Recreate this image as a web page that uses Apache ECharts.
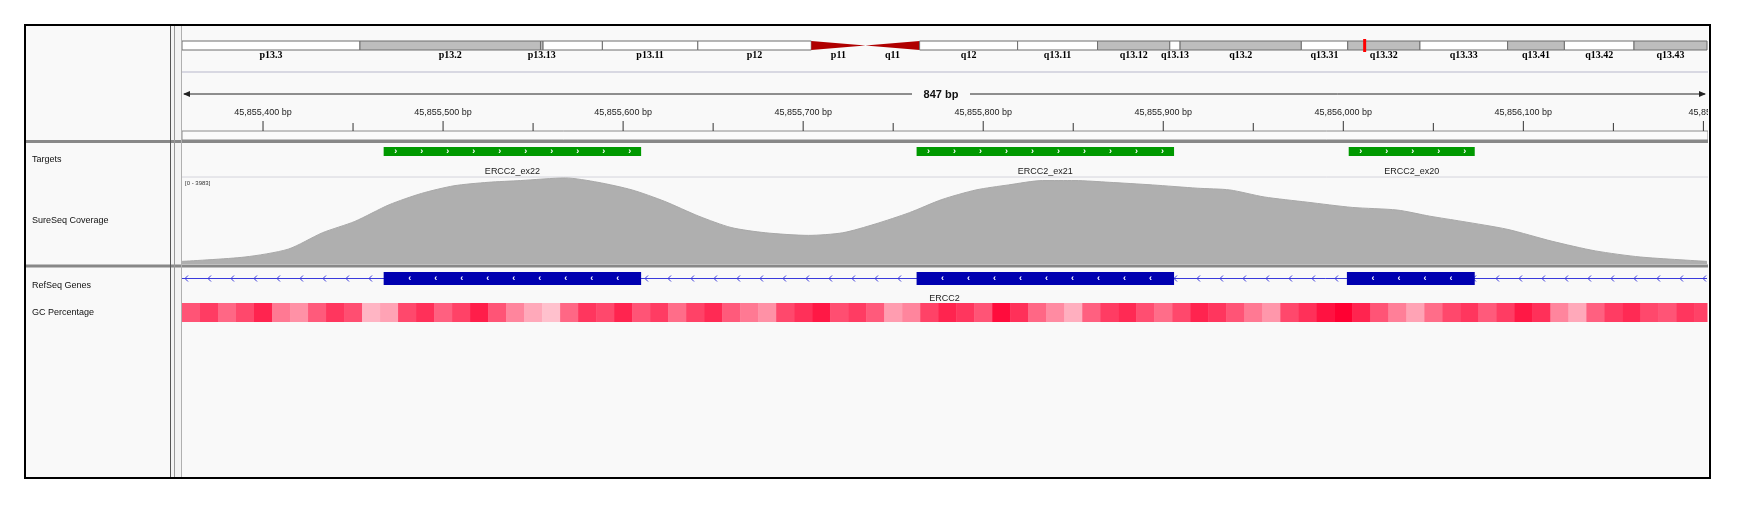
<!DOCTYPE html>
<html>
<head>
<meta charset="utf-8">
<script src="https://cdn.jsdelivr.net/npm/echarts@6/dist/echarts.min.js"></script>
<style>html,body{margin:0;padding:0;background:#fff}#chart{width:1739px;height:510px}</style>
</head>
<body>
<div id="chart"></div>
<script>
// chr19 ideogram bands (Mb)
var bandNames = ['p13.3','p13.2','p13.13','p13.12','p13.11','p12','p11','q11','q12','q13.11','q13.12','q13.13','q13.2','q13.31','q13.32','q13.33','q13.41','q13.42','q13.43'];
var bandStarts = [0,6.9,13.9,14.0,16.3,20.0,24.4,26.5,28.6,32.4,35.5,38.3,38.7,43.4,45.2,48.0,51.4,53.6,56.3];
var bandEnds = [6.9,13.9,14.0,16.3,20.0,24.4,26.5,28.6,32.4,35.5,38.3,38.7,43.4,45.2,48.0,51.4,53.6,56.3,59.13];
var bandStains = ['gneg','gpos','gpos','gneg','gneg','gneg','acenL','acenR','gneg','gneg','gpos','gneg','gpos','gneg','gpos','gneg','gpos','gneg','gpos'];
var bandShowLabel = [1,1,1,0,1,1,1,1,1,1,1,1,1,1,1,1,1,1,1];
var chrLength = 59.13;
var currentPos = 45.856;

var viewStart = 45855355;
var viewEnd = 45856202;

var tickPos = [45855400,45855450,45855500,45855550,45855600,45855650,45855700,45855750,45855800,45855850,45855900,45855950,45856000,45856050,45856100,45856150,45856200];
var tickLabels = ['45,855,400 bp','','45,855,500 bp','','45,855,600 bp','','45,855,700 bp','','45,855,800 bp','','45,855,900 bp','','45,856,000 bp','','45,856,100 bp','','45,856,'];

var targetNames = ['ERCC2_ex22','ERCC2_ex21','ERCC2_ex20'];
var targetStarts = [45855467,45855763,45856003];
var targetEnds = [45855610,45855906,45856073];

var exonStarts = [45855467,45855763,45856002];
var exonEnds = [45855610,45855906,45856073];

var coverageMax = 3983;
var covPos = [45855355,45855390,45855414,45855433,45855451,45855470,45855488,45855506,45855525,45855543,45855568,45855586,45855605,45855623,45855642,45855660,45855679,45855703,45855722,45855740,45855759,45855777,45855796,45855814,45855833,45855851,45855870,45855894,45855919,45855937,45855956,45855980,45856005,45856030,45856048,45856066,45856091,45856116,45856140,45856165,45856202];
var covVal = [120,320,680,1430,1950,2710,3230,3580,3740,3820,3940,3740,3390,2870,2190,1670,1430,1310,1430,1830,2350,2950,3390,3620,3820,3820,3740,3620,3470,3390,3070,2830,2590,2470,2190,1950,1590,1040,600,320,120];

var gcBin = 10;
var gcValues = [58,62,55,60,66,52,48,57,63,59,42,45,60,64,56,61,67,58,50,44,40,55,63,60,66,58,62,54,61,65,57,52,48,60,64,68,59,62,57,46,50,61,66,63,58,70,64,55,49,43,56,62,65,59,54,60,66,63,58,52,47,60,64,69,72,66,58,51,45,54,60,63,57,62,68,64,50,44,56,62,65,60,58,63,61];

var L = 182, W = 1525;
var font = 'Liberation Sans';
var chart = echarts.init(document.getElementById('chart'));

function gcColor(v) {
    var t = Math.max(0, Math.min(1, (v - 38) / 34));
    var g = Math.round(205 - 205 * t), b = Math.round(215 - 165 * t);
    return 'rgb(255,' + g + ',' + b + ')';
}

var grids = [
    {left: L, width: W, top: 41, height: 9},
    {left: L, width: W, top: 122, height: 9},
    {left: L, width: W, top: 147, height: 9},
    {left: L, width: W, top: 177, height: 87},
    {left: L, width: W, top: 272, height: 13},
    {left: L, width: W, top: 303, height: 19}
];
var xAxes = grids.map(function (g, i) {
    return i === 0 ? {gridIndex: 0, type: 'value', min: 0, max: chrLength, show: false}
        : {gridIndex: i, type: 'value', min: viewStart, max: viewEnd, show: false};
});
var yAxes = grids.map(function (g, i) {
    return {gridIndex: i, type: 'value', min: 0, max: i === 3 ? coverageMax : 1, show: false};
});

var bandData = bandNames.map(function (n, i) { return [bandStarts[i], bandEnds[i], i]; });
var tickData = tickPos.map(function (p, i) { return [p, i]; });
var targetData = targetNames.map(function (n, i) { return [targetStarts[i], targetEnds[i], i]; });
var exonData = exonStarts.map(function (s, i) { return [s, exonEnds[i]]; });
var gcData = gcValues.map(function (v, i) { return [viewStart + i * gcBin, v]; });
var covData = covPos.map(function (p, i) { return [p, covVal[i]]; });

var series = [
    {   // ideogram
        type: 'custom', xAxisIndex: 0, yAxisIndex: 0, data: bandData,
        renderItem: function (params, api) {
            var i = api.value(2);
            var a = api.coord([api.value(0), 1]), b = api.coord([api.value(1), 0]);
            var stain = bandStains[i], el;
            if (stain === 'acenL') {
                el = {type: 'polygon', shape: {points: [[a[0], a[1]], [b[0], (a[1] + b[1]) / 2], [a[0], b[1]]]}, style: {fill: '#b00000'}};
            } else if (stain === 'acenR') {
                el = {type: 'polygon', shape: {points: [[a[0], (a[1] + b[1]) / 2], [b[0], a[1]], [b[0], b[1]]]}, style: {fill: '#b00000'}};
            } else {
                el = {type: 'rect', shape: {x: a[0], y: a[1], width: b[0] - a[0], height: b[1] - a[1]},
                    style: {fill: stain === 'gpos' ? '#bdbdbd' : '#ffffff', stroke: '#6e6e6e', lineWidth: 1}};
            }
            var children = [el];
            if (bandShowLabel[i]) {
                children.push({type: 'text', style: {text: bandNames[i], x: (a[0] + b[0]) / 2, y: b[1] + 5, align: 'center', verticalAlign: 'middle',
                    font: 'bold 10px "Liberation Serif"', fill: '#000'}});
            }
            if (i === bandNames.length - 1) {
                var m = api.coord([currentPos, 0]);
                children.push({type: 'rect', shape: {x: m[0] - 1.5, y: a[1] - 2, width: 3, height: b[1] - a[1] + 4}, style: {fill: '#ff0000'}});
            }
            return {type: 'group', children: children};
        }
    },
    {   // ruler ticks
        type: 'custom', xAxisIndex: 1, yAxisIndex: 1, data: tickData,
        renderItem: function (params, api) {
            var p0 = api.coord([api.value(0), 0]), p1 = api.coord([api.value(0), 1]);
            var lab = tickLabels[api.value(1)];
            var ch = [{type: 'line', shape: {x1: p0[0], y1: p0[1], x2: p1[0], y2: p1[1] + (lab ? -1 : 1)}, style: {stroke: '#333', lineWidth: 1}}];
            if (lab) ch.push({type: 'text', style: {text: lab, x: p0[0], y: p1[1] - 9, align: 'center', verticalAlign: 'middle', font: '9px "' + font + '"', fill: '#222'}});
            return {type: 'group', children: ch};
        }
    },
    {   // targets
        type: 'custom', xAxisIndex: 2, yAxisIndex: 2, data: targetData,
        renderItem: function (params, api) {
            var a = api.coord([api.value(0), 1]), b = api.coord([api.value(1), 0]);
            var ch = [{type: 'rect', shape: {x: a[0], y: a[1], width: b[0] - a[0], height: b[1] - a[1]}, style: {fill: '#009900'}}];
            for (var x = a[0] + 12; x < b[0] - 6; x += 26) {
                ch.push({type: 'text', style: {text: '›', x: x, y: (a[1] + b[1]) / 2, align: 'center', verticalAlign: 'middle', font: 'bold 9px "' + font + '"', fill: '#fff'}});
            }
            ch.push({type: 'text', style: {text: targetNames[api.value(2)], x: (a[0] + b[0]) / 2, y: b[1] + 16, align: 'center', verticalAlign: 'middle', font: '9px "' + font + '"', fill: '#222'}});
            return {type: 'group', children: ch};
        }
    },
    {   // coverage
        type: 'line', xAxisIndex: 3, yAxisIndex: 3, data: covData, smooth: 0.25, showSymbol: false,
        lineStyle: {width: 1, color: '#a8a8a8'}, areaStyle: {color: '#afafaf', opacity: 1}, silent: true
    },
    {   // gene intron line
        type: 'custom', xAxisIndex: 4, yAxisIndex: 4, data: [[viewStart, viewEnd]],
        renderItem: function (params, api) {
            var a = api.coord([api.value(0), 0.5]), b = api.coord([api.value(1), 0.5]);
            var ch = [{type: 'line', shape: {x1: a[0], y1: a[1], x2: b[0], y2: b[1]}, style: {stroke: '#3a3adc', lineWidth: 1}}];
            for (var x = a[0] + 3; x < b[0]; x += 23) {
                ch.push({type: 'polyline', shape: {points: [[x + 3, a[1] - 3], [x, a[1]], [x + 3, a[1] + 3]]}, style: {stroke: '#3a3adc', lineWidth: 1, fill: null}});
            }
            ch.push({type: 'text', style: {text: 'ERCC2', x: (a[0] + b[0]) / 2, y: a[1] + 20, align: 'center', verticalAlign: 'middle', font: '9px "' + font + '"', fill: '#222'}});
            return {type: 'group', children: ch};
        }
    },
    {   // exons
        type: 'custom', xAxisIndex: 4, yAxisIndex: 4, data: exonData,
        renderItem: function (params, api) {
            var a = api.coord([api.value(0), 1]), b = api.coord([api.value(1), 0]);
            var ch = [{type: 'rect', shape: {x: a[0], y: a[1], width: b[0] - a[0], height: b[1] - a[1]}, style: {fill: '#0000b0'}}];
            for (var x = a[0] + 26; x < b[0] - 8; x += 26) {
                ch.push({type: 'text', style: {text: '‹', x: x, y: (a[1] + b[1]) / 2, align: 'center', verticalAlign: 'middle', font: 'bold 9px "' + font + '"', fill: '#fff'}});
            }
            return {type: 'group', children: ch};
        }
    },
    {   // GC percentage
        type: 'custom', xAxisIndex: 5, yAxisIndex: 5, data: gcData,
        renderItem: function (params, api) {
            var s = api.value(0), e = Math.min(s + gcBin, viewEnd);
            var a = api.coord([s, 1]), b = api.coord([e, 0]);
            return {type: 'rect', shape: {x: a[0], y: a[1], width: b[0] - a[0] + 0.5, height: b[1] - a[1]}, style: {fill: gcColor(api.value(1))}};
        }
    }
];

var lab = {font: '9px "' + font + '"', fill: '#111', verticalAlign: 'middle'};
var graphic = [
    {type: 'rect', z: -10, shape: {x: 25, y: 25, width: 1685, height: 453}, style: {fill: '#f9f9f9'}},
    {type: 'line', z: -5, shape: {x1: 182, y1: 72, x2: 1708, y2: 72}, style: {stroke: '#d8d8e2', lineWidth: 2}},
    {type: 'rect', z: -5, shape: {x: 182, y: 131, width: 1526, height: 9}, style: {fill: '#fafafa', stroke: '#8a8a8a', lineWidth: 1}},
    // ruler arrow
    {type: 'line', shape: {x1: 184, y1: 94, x2: 912, y2: 94}, style: {stroke: '#222', lineWidth: 1}},
    {type: 'line', shape: {x1: 970, y1: 94, x2: 1705, y2: 94}, style: {stroke: '#222', lineWidth: 1}},
    {type: 'polygon', shape: {points: [[183, 94], [190, 91], [190, 97]]}, style: {fill: '#222'}},
    {type: 'polygon', shape: {points: [[1706, 94], [1699, 91], [1699, 97]]}, style: {fill: '#222'}},
    {type: 'text', style: {text: '847 bp', x: 941, y: 95, align: 'center', verticalAlign: 'middle', font: 'bold 11px "' + font + '"', fill: '#111'}},
    {type: 'text', style: {text: '[0 - 3983]', x: 185, y: 183, verticalAlign: 'middle', font: '6px "' + font + '"', fill: '#333'}},
    // track separators
    {type: 'line', shape: {x1: 182, y1: 177, x2: 1708, y2: 177}, style: {stroke: '#d4d4dc', lineWidth: 1}},
    {type: 'line', z: 50, shape: {x1: 25, y1: 141.5, x2: 1710, y2: 141.5}, style: {stroke: '#888', lineWidth: 3}},
    {type: 'line', z: 50, shape: {x1: 25, y1: 266, x2: 1710, y2: 266}, style: {stroke: '#888', lineWidth: 3}},
    {type: 'line', z: 50, shape: {x1: 170.5, y1: 25, x2: 170.5, y2: 478}, style: {stroke: '#555', lineWidth: 1}},
    {type: 'line', z: 50, shape: {x1: 174.5, y1: 25, x2: 174.5, y2: 478}, style: {stroke: '#999', lineWidth: 1}},
    {type: 'line', z: 50, shape: {x1: 181.5, y1: 25, x2: 181.5, y2: 478}, style: {stroke: '#b0b0b0', lineWidth: 1}},
    {type: 'rect', z: 49, shape: {x: 171, y: 26, width: 10, height: 451}, style: {fill: '#f4f4f4'}},
    {type: 'rect', z: 51, shape: {x: 1708, y: 26, width: 30, height: 453}, style: {fill: '#fff'}},
    {type: 'rect', z: 52, shape: {x: 25, y: 25, width: 1685, height: 453}, style: {fill: null, stroke: '#000', lineWidth: 2}},
    // track names
    {type: 'text', style: Object.assign({text: 'Targets', x: 32, y: 160}, lab)},
    {type: 'text', style: Object.assign({text: 'SureSeq Coverage', x: 32, y: 221}, lab)},
    {type: 'text', style: Object.assign({text: 'RefSeq Genes', x: 32, y: 286}, lab)},
    {type: 'text', style: Object.assign({text: 'GC Percentage', x: 32, y: 313}, lab)}
];

chart.setOption({
    animation: false,
    grid: grids,
    xAxis: xAxes,
    yAxis: yAxes,
    series: series,
    graphic: graphic
});
</script>
</body>
</html>
